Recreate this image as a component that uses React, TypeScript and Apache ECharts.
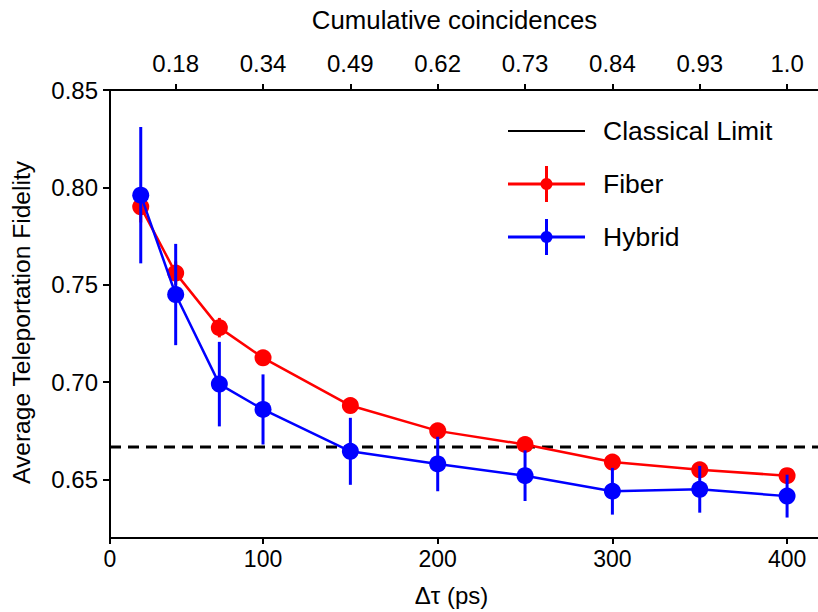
import React, { useEffect, useRef } from 'react';
import * as echarts from 'echarts';

const xValues = [30, 50, 75, 100, 150, 200, 250, 300, 350, 400];
const fiber = [0.79, 0.756, 0.728, 0.7125, 0.688, 0.675, 0.668, 0.659, 0.655, 0.652];
const fiberErr = [0.008, 0.006, 0.005, 0.004, 0.003, 0.003, 0.003, 0.003, 0.003, 0.003];
const hybrid = [0.796, 0.745, 0.699, 0.686, 0.6645, 0.658, 0.652, 0.644, 0.645, 0.6415];
const hybridErr = [0.035, 0.026, 0.0217, 0.018, 0.0172, 0.014, 0.013, 0.012, 0.012, 0.011];
const classicalLimit = 2 / 3;

const bottomTickValues = [12.4, 100, 200, 300, 400];
const bottomTickLabels = ['0', '100', '200', '300', '400'];
const topTickValues = [50, 100, 150, 200, 250, 300, 350, 400];
const topTickLabels = ['0.18', '0.34', '0.49', '0.62', '0.73', '0.84', '0.93', '1.0'];
const yTickValues = [0.65, 0.7, 0.75, 0.8, 0.85];
const yTickLabels = ['0.65', '0.70', '0.75', '0.80', '0.85'];

const X_MIN = 12.4;
const X_MAX = 417.7;
const Y_MIN = 0.62;
const Y_MAX = 0.85;

const FONT = '"Liberation Sans", Arial, Helvetica, sans-serif';
const RED = '#ff0000';
const BLUE = '#0000ff';

function errorSeries(name: string, vals: number[], errs: number[], color: string, z: number) {
  return {
    type: 'custom',
    name: name + ' err',
    xAxisIndex: 0,
    yAxisIndex: 0,
    z,
    silent: true,
    data: xValues.map((x, i) => [x, vals[i] - errs[i], vals[i] + errs[i]]),
    encode: { x: 0, y: [1, 2] },
    renderItem: (params: any, api: any) => {
      const x = api.value(0);
      const p1 = api.coord([x, api.value(1)]);
      const p2 = api.coord([x, api.value(2)]);
      return {
        type: 'line',
        shape: { x1: p1[0], y1: p1[1], x2: p2[0], y2: p2[1] },
        style: { stroke: color, lineWidth: 3 },
      };
    },
  };
}

function lineSeries(name: string, vals: number[], color: string, z: number) {
  return {
    type: 'line',
    name,
    xAxisIndex: 0,
    yAxisIndex: 0,
    z,
    data: xValues.map((x, i) => [x, vals[i]]),
    symbol: 'circle',
    symbolSize: 17,
    itemStyle: { color },
    lineStyle: { color, width: 2.5 },
  };
}

function legendRow(y: number, label: string, color: string, withMarker: boolean, lw: number) {
  const children: any[] = [
    {
      type: 'line',
      shape: { x1: 508, y1: y, x2: 585, y2: y },
      style: { stroke: color, lineWidth: lw },
    },
  ];
  if (withMarker) {
    children.push({
      type: 'line',
      shape: { x1: 546.5, y1: y - 18, x2: 546.5, y2: y + 18 },
      style: { stroke: color, lineWidth: 3 },
    });
    children.push({
      type: 'circle',
      shape: { cx: 546.5, cy: y, r: 6 },
      style: { fill: color },
    });
  }
  children.push({
    type: 'text',
    x: 603,
    y,
    style: {
      text: label,
      font: `26.5px ${FONT}`,
      fill: '#000',
      verticalAlign: 'middle',
      align: 'left',
    },
  });
  return { type: 'group', children };
}

function pick(values: number[], labels: string[]) {
  return (v: number) => {
    const i = values.findIndex((t) => Math.abs(t - v) < 1e-6);
    return i >= 0 ? labels[i] : '';
  };
}

export default function App() {
  const ref = useRef<HTMLDivElement>(null);
  useEffect(() => {
    const chart = echarts.init(ref.current!, null, { renderer: 'svg' });
    const axisLine = { show: true, lineStyle: { color: '#000', width: 2 } };
    const option: any = {
      animation: false,
      backgroundColor: '#fff',
      textStyle: { fontFamily: FONT },
      grid: { left: 110, top: 90, right: 0, bottom: 72, containLabel: false },
      xAxis: [
        {
          type: 'value',
          position: 'bottom',
          min: X_MIN,
          max: X_MAX,
          name: 'Δτ (ps)',
          nameLocation: 'middle',
          nameGap: 45,
          nameTextStyle: { fontSize: 24, color: '#000', fontFamily: FONT, padding: [0, 25, 0, 0] },
          axisLine,
          axisTick: { show: true, length: 6, lineStyle: { color: '#000', width: 2 }, customValues: bottomTickValues },
          axisLabel: {
            fontSize: 23,
            color: '#000',
            margin: 9,
            fontFamily: FONT,
            customValues: bottomTickValues,
            formatter: pick(bottomTickValues, bottomTickLabels),
          },
          splitLine: { show: false },
        },
        {
          type: 'value',
          position: 'top',
          min: X_MIN,
          max: X_MAX,
          name: 'Cumulative coincidences',
          nameLocation: 'middle',
          nameGap: 57,
          nameTextStyle: { fontSize: 25.8, color: '#000', fontFamily: FONT, padding: [0, 19, 0, 0] },
          axisLine,
          axisTick: { show: true, length: 6, lineStyle: { color: '#000', width: 2 }, customValues: topTickValues },
          axisLabel: {
            fontSize: 24,
            color: '#000',
            margin: 15,
            fontFamily: FONT,
            customValues: topTickValues,
            formatter: pick(topTickValues, topTickLabels),
          },
          splitLine: { show: false },
        },
      ],
      yAxis: {
        type: 'value',
        min: Y_MIN,
        max: Y_MAX,
        name: 'Average Teleportation Fidelity',
        nameLocation: 'middle',
        nameGap: 76,
        nameRotate: 90,
        nameTextStyle: { fontSize: 24.6, color: '#000', fontFamily: FONT, padding: [0, 17, 0, 0] },
        axisLine,
        axisTick: { show: true, length: 7, lineStyle: { color: '#000', width: 2 }, customValues: yTickValues },
        axisLabel: {
          fontSize: 24,
          color: '#000',
          margin: 12,
          fontFamily: FONT,
          customValues: yTickValues,
          formatter: pick(yTickValues, yTickLabels),
        },
        splitLine: { show: false },
      },
      series: [
        {
          type: 'line',
          name: 'Classical Limit',
          data: [
            [X_MIN, classicalLimit],
            [X_MAX, classicalLimit],
          ],
          symbol: 'none',
          z: 1,
          lineStyle: { color: '#000', width: 3, type: [11, 7] },
        },
        errorSeries('Fiber', fiber, fiberErr, RED, 2),
        lineSeries('Fiber', fiber, RED, 3),
        errorSeries('Hybrid', hybrid, hybridErr, BLUE, 4),
        lineSeries('Hybrid', hybrid, BLUE, 5),
      ],
      graphic: [
        legendRow(131, 'Classical Limit', '#000', false, 2),
        legendRow(184, 'Fiber', RED, true, 3),
        legendRow(237, 'Hybrid', BLUE, true, 3),
      ],
    };
    chart.setOption(option);
    return () => chart.dispose();
  }, []);
  return <div ref={ref} style={{ position: 'fixed', left: 0, top: 0, width: 818, height: 612 }} />;
}
